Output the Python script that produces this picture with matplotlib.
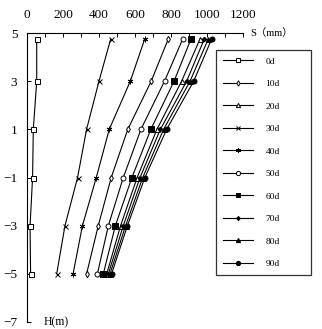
import matplotlib
matplotlib.use('Agg')
import matplotlib.pyplot as plt

# --- DATA ---
depths = [4.75, 3, 1, -1, -3, -5]  # H (m)
labels = ['0d', '10d', '20d', '30d', '40d', '50d', '60d', '70d', '80d', '90d']

s_0d = [54, 54, 35, 31, 17, 20]
s_10d = [785, 690, 560, 468, 396, 331]
s_20d = [961, 859, 722, 612, 520, 443]
s_30d = [465, 400, 331, 281, 211, 165]
s_40d = [654, 574, 457, 385, 308, 256]
s_50d = [865, 764, 633, 535, 452, 391]
s_60d = [911, 817, 688, 583, 491, 424]
s_70d = [985, 887, 741, 628, 535, 452]
s_80d = [1007, 906, 759, 643, 548, 461]
s_90d = [1026, 926, 776, 655, 558, 470]

series = [s_0d, s_10d, s_20d, s_30d, s_40d, s_50d, s_60d, s_70d, s_80d, s_90d]

# marker style per series (Excel-like)
styles = [
    dict(marker='s', ms=3.6, mfc='white'),
    dict(marker='d', ms=3.2, mfc='white'),
    dict(marker='^', ms=3.6, mfc='white'),
    dict(marker='x', ms=3.6, mfc='black'),
    dict(marker=(6, 2, 0), ms=4.0, mfc='black'),
    dict(marker='o', ms=3.6, mfc='white'),
    dict(marker='s', ms=4.0, mfc='black'),
    dict(marker='D', ms=2.4, mfc='black'),
    dict(marker='^', ms=3.6, mfc='black'),
    dict(marker='o', ms=3.6, mfc='black'),
]

SERIF = 'Liberation Serif'

fig = plt.figure(figsize=(3.22, 3.29), dpi=100)
ax = fig.add_axes([27 / 322, 1 - 322 / 329, 216 / 322, 289 / 329])

for vals, lab, st in zip(series, labels, styles):
    ax.plot(vals, depths, color='black', linewidth=0.8, mec='black', mew=0.7,
            label=lab, **st)

ax.set_xlim(0, 1200)
ax.set_ylim(-7, 5)

# x axis on top, ticks pointing inward
ax.xaxis.tick_top()
ax.set_xticks(range(0, 1201, 200))
ax.set_xticks(range(100, 1200, 200), minor=True)
ax.set_yticks([5, 3, 1, -1, -3, -5, -7])
ax.tick_params(axis='x', which='both', direction='in', length=3, width=0.7,
               pad=9, labelsize=9.5)
ax.tick_params(axis='y', direction='in', length=3, width=0.7, pad=7,
               labelsize=9.5)
for lbl in ax.get_xticklabels() + ax.get_yticklabels():
    lbl.set_family(SERIF)

for side in ['right', 'bottom']:
    ax.spines[side].set_visible(False)
for side in ['top', 'left']:
    ax.spines[side].set_linewidth(0.8)

ax.text(1.035, 1.0, 'S（mm）', transform=ax.transAxes, ha='left', va='center',
        fontsize=7.5, family=[SERIF, 'Noto Sans CJK SC'])
ax.text(90, -7, 'H(m)', ha='left', va='center', fontsize=8.5, family=SERIF)

# legend box: x 216..311, y 50..278 px
leg = ax.legend(loc='upper left',
                bbox_to_anchor=(216 / 322, 1 - 278 / 329, 95 / 322, 228 / 329),
                bbox_transform=fig.transFigure, mode='expand',
                frameon=True, fancybox=False,
                edgecolor='black', prop={'family': SERIF, 'size': 6.8},
                handlelength=3.2, handletextpad=1.3, labelspacing=1.47,
                borderpad=0.75, borderaxespad=0, markerscale=0.85)
leg.get_frame().set_linewidth(0.9)

fig.savefig('out.png', dpi=100)
